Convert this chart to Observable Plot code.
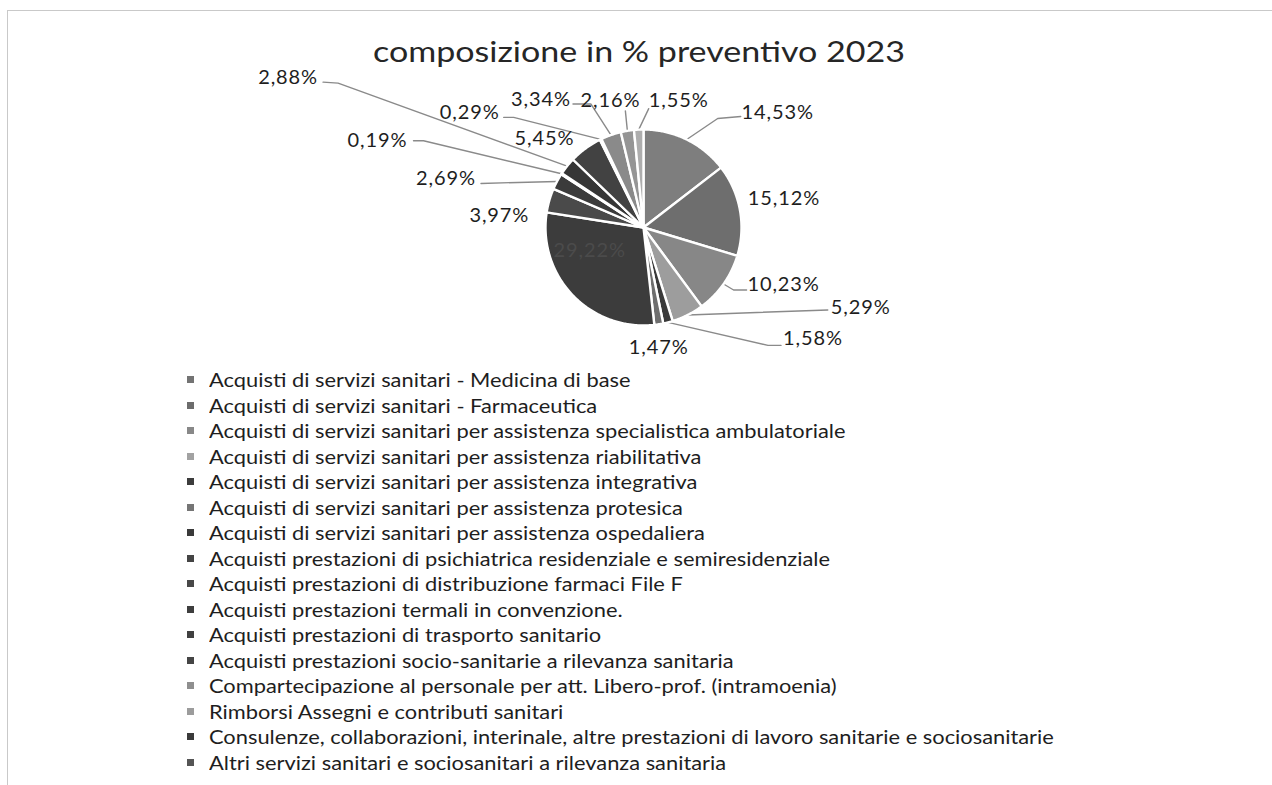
<!DOCTYPE html>
<html><head><meta charset="utf-8">
<script src="https://cdn.jsdelivr.net/npm/d3@7"></script>
<script src="https://cdn.jsdelivr.net/npm/@observablehq/plot@0.6"></script>
<style>
html,body{margin:0;padding:0;background:#fff;}
body{width:1272px;height:785px;position:relative;overflow:hidden;font-family:Lato,"Open Sans",sans-serif;color:#1e1e1e;}
#frame{position:absolute;left:7px;top:10px;width:1270px;height:780px;border-top:1.5px solid #c9c9c9;border-left:1.5px solid #c9c9c9;}
#title{position:absolute;top:33px;left:0;font-size:28px;line-height:36px;color:#262626;white-space:nowrap;transform-origin:0 50%;}
#chart{position:absolute;left:0;top:0;}
#chart text{letter-spacing:0.9px;}
#legend{position:absolute;left:187px;top:367px;font-size:19.5px;}
.row{height:25.5px;line-height:25.5px;white-space:nowrap;display:flex;align-items:center;}
.sw{width:7px;height:7px;margin-right:15px;flex:none;}
.tx{display:inline-block;transform-origin:0 50%;}
</style></head><body>
<div id="frame"></div>
<div id="title"></div>
<div id="chart"></div>
<div id="legend"></div>
<script>
// ---- data ----
const title = "composizione in % preventivo 2023";
const categories = [
  "Acquisti di servizi sanitari - Medicina di base",
  "Acquisti di servizi sanitari - Farmaceutica",
  "Acquisti di servizi sanitari per assistenza specialistica ambulatoriale",
  "Acquisti di servizi sanitari per assistenza riabilitativa",
  "Acquisti di servizi sanitari per assistenza integrativa",
  "Acquisti di servizi sanitari per assistenza protesica",
  "Acquisti di servizi sanitari per assistenza ospedaliera",
  "Acquisti prestazioni di psichiatrica residenziale e semiresidenziale",
  "Acquisti prestazioni di distribuzione farmaci File F",
  "Acquisti prestazioni termali in convenzione.",
  "Acquisti prestazioni di trasporto sanitario",
  "Acquisti prestazioni  socio-sanitarie a rilevanza sanitaria",
  "Compartecipazione al personale per att. Libero-prof. (intramoenia)",
  "Rimborsi Assegni e contributi sanitari",
  "Consulenze, collaborazioni, interinale, altre prestazioni di lavoro sanitarie e sociosanitarie",
  "Altri servizi sanitari e sociosanitari a rilevanza sanitaria"
];
const values = [14.53, 15.12, 10.23, 5.29, 1.58, 1.47, 29.22, 3.97, 2.69, 0.19, 2.88, 5.45, 0.29, 3.34, 2.16, 1.55];
const valueLabels = ["14,53%","15,12%","10,23%","5,29%","1,58%","1,47%","29,22%","3,97%","2,69%","0,19%","2,88%","5,45%","0,29%","3,34%","2,16%","1,55%"];

// ---- styles / layout ----
const colors = ["#7e7e7e","#6e6e6e","#878787","#9d9d9d","#3a3a3a","#6e6e6e","#3c3c3c","#4a4a4a","#3b3b3b","#444444","#363636","#424242","#8c8c8c","#8a8a8a","#959595","#adadad"];
const swatchColors = ["#737373","#6c6c6c","#888888","#a2a2a2","#3c3c3c","#757575","#3a3a3a","#444444","#484848","#3e3e3e","#404040","#454545","#8f8f8f","#9c9c9c","#3a3a3a","#555555"];
// label offset from slice rim point (px) ; leader path offsets (px) from rim, ending at rim
const labelOffsets = [[91,-27],[44,-11],[60,1],[173,-7],[145,16],[0,23],[17,-45],[-50,15],[-111,-3],[-184,-33],[-279,-89],[-41,-10],[-131,-27],[-70,-35],[-17,-30],[40,-29]];
const leaderPaths = [
  [[54,-23],[31,-21]], null, [[23,6],[10,6]], [[140,-5]], [[113,23],[100,23]], null, null, null,
  [[-76,2]], [[-148,-33],[-138,-33]], [[-244,-84],[-229,-83]], null, [[-97,-22],[-87,-22]],
  [[-38,-31],[-20,-31]], [[-2,-20]], [[10,-21]]
];
const W = 1272, H = 360, CX = 643, CY = 227, R = 98;
const titleSpan = [373, 905];      // horizontal extent of the title in px
const legendWidestRow = [7, 621];  // row index and its target text width in px

const titleEl = document.getElementById("title");
titleEl.textContent = title;
{
  const w = titleEl.getBoundingClientRect().width;
  const k = (titleSpan[1] - titleSpan[0]) / w;
  titleEl.style.left = titleSpan[0] + "px";
  titleEl.style.transform = `scaleX(${k})`;
}

const arcs = d3.pie().sort(null).value(d => d)(values);
const slicePts = [];
const leaderPts = [];
const labels = [];
arcs.forEach((a, i) => {
  const name = categories[i];
  slicePts.push({name, color: colors[i], x: 0, y: 0});
  const n = Math.max(2, Math.ceil((a.endAngle - a.startAngle) / 0.01));
  for (let k = 0; k <= n; k++) {
    const t = a.startAngle + (a.endAngle - a.startAngle) * k / n;
    slicePts.push({name, color: colors[i], x: Math.sin(t), y: -Math.cos(t)});
  }
  const mid = (a.startAngle + a.endAngle) / 2;
  const rx = Math.sin(mid), ry = -Math.cos(mid);
  const [ox, oy] = labelOffsets[i];
  labels.push({text: valueLabels[i], x: rx + ox / R, y: ry + oy / R, inside: i === 6});
  if (leaderPaths[i]) {
    leaderPaths[i].forEach(([dx, dy]) => leaderPts.push({name, x: rx + dx / R, y: ry + dy / R}));
    leaderPts.push({name, x: rx, y: ry});
  }
});

const chart = Plot.plot({
  width: W, height: H,
  margin: 0,
  x: {domain: [-CX / R, (W - CX) / R], range: [0, W], axis: null},
  y: {domain: [-CY / R, (H - CY) / R], range: [0, H], axis: null},
  color: {type: "identity"},
  style: {background: "transparent", overflow: "visible"},
  marks: [
    Plot.line(leaderPts, {x: "x", y: "y", z: "name", stroke: "#8a8a8a", strokeWidth: 1.4}),
    Plot.line(slicePts, {x: "x", y: "y", z: "name", fill: "color", stroke: "#ffffff", strokeWidth: 2.4, strokeLinejoin: "round", curve: "linear-closed"}),
    Plot.text(labels.filter(d => !d.inside), {x: "x", y: "y", text: "text", fontSize: 20, fontFamily: "Lato", fill: "#1e1e1e"}),
    Plot.text(labels.filter(d => d.inside), {x: "x", y: "y", text: "text", fontSize: 20, fontFamily: "Lato", fill: "#4b4b4b"})
  ]
});
document.getElementById("chart").appendChild(chart);

const legend = document.getElementById("legend");
const spans = [];
categories.forEach((c, i) => {
  const row = document.createElement("div");
  row.className = "row";
  const sw = document.createElement("span");
  sw.className = "sw";
  sw.style.background = swatchColors[i];
  const tx = document.createElement("span");
  tx.className = "tx";
  tx.textContent = c;
  row.appendChild(sw); row.appendChild(tx);
  legend.appendChild(row);
  spans.push(tx);
});
{
  const w = spans[legendWidestRow[0]].getBoundingClientRect().width;
  const k = legendWidestRow[1] / w;
  spans.forEach(s => s.style.transform = `scaleX(${k})`);
}
</script>
</body></html>
